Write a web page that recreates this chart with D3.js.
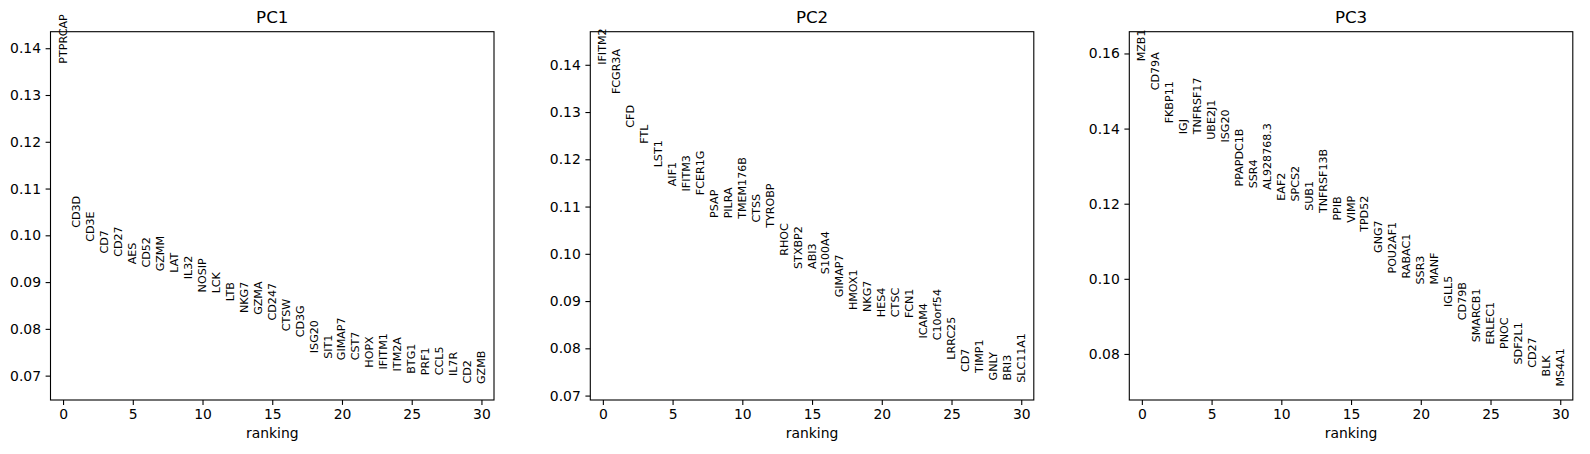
<!DOCTYPE html>
<html>
<head>
<meta charset="utf-8">
<script src="https://cdn.jsdelivr.net/npm/d3@7/dist/d3.min.js"></script>
<style>
  body { margin: 0; background: #fff; }
  svg text { font-family: 'DejaVu Sans', sans-serif; fill: #000; }
</style>
</head>
<body>
<svg id="chart" width="1590" height="454"></svg>
<script>

const titles = ['PC1', 'PC2', 'PC3'];

const pc1Genes = ['PTPRCAP', 'CD3D', 'CD3E', 'CD7', 'CD27', 'AES', 'CD52', 'GZMM', 'LAT', 'IL32',
  'NOSIP', 'LCK', 'LTB', 'NKG7', 'GZMA', 'CD247', 'CTSW', 'CD3G', 'ISG20', 'SIT1',
  'GIMAP7', 'CST7', 'HOPX', 'IFITM1', 'ITM2A', 'BTG1', 'PRF1', 'CCL5', 'IL7R', 'CD2', 'GZMB'];
const pc1Scores = [0.1367, 0.1016, 0.0986, 0.0961, 0.0954, 0.0938, 0.0931, 0.0923, 0.0920, 0.0906,
  0.0878, 0.0876, 0.0859, 0.0834, 0.0830, 0.0818, 0.0795, 0.0782, 0.0748, 0.0736,
  0.0733, 0.0733, 0.0717, 0.0713, 0.0709, 0.0704, 0.0701, 0.0701, 0.0699, 0.0683, 0.0682];

const pc2Genes = ['IFITM2', 'FCGR3A', 'CFD', 'FTL', 'LST1', 'AIF1', 'IFITM3', 'FCER1G', 'PSAP', 'PILRA',
  'TMEM176B', 'CTSS', 'TYROBP', 'RHOC', 'STXBP2', 'ABI3', 'S100A4', 'GIMAP7', 'HMOX1', 'NKG7',
  'HES4', 'CTSC', 'FCN1', 'ICAM4', 'C10orf54', 'LRRC25', 'CD7', 'TIMP1', 'GNLY', 'BRI3', 'SLC11A1'];
const pc2Scores = [0.1400, 0.1338, 0.1267, 0.1233, 0.1183, 0.1143, 0.1132, 0.1124, 0.1076, 0.1075,
  0.1074, 0.1066, 0.1055, 0.0996, 0.0968, 0.0968, 0.0957, 0.0908, 0.0881, 0.0877,
  0.0866, 0.0866, 0.0864, 0.0821, 0.0817, 0.0776, 0.0750, 0.0748, 0.0732, 0.0732, 0.0727];

const pc3Genes = ['MZB1', 'CD79A', 'FKBP11', 'IGJ', 'TNFRSF17', 'UBE2J1', 'ISG20', 'PPAPDC1B', 'SSR4', 'AL928768.3',
  'EAF2', 'SPCS2', 'SUB1', 'TNFRSF13B', 'PPIB', 'VIMP', 'TPD52', 'GNG7', 'POU2AF1', 'RABAC1',
  'SSR3', 'MANF', 'IGLL5', 'CD79B', 'SMARCB1', 'ERLEC1', 'PNOC', 'SDF2L1', 'CD27', 'BLK', 'MS4A1'];
const pc3Scores = [0.1579, 0.1502, 0.1414, 0.1385, 0.1385, 0.1370, 0.1363, 0.1246, 0.1241, 0.1237,
  0.1208, 0.1206, 0.1181, 0.1175, 0.1155, 0.1149, 0.1125, 0.1069, 0.1014, 0.1001,
  0.0985, 0.0985, 0.0925, 0.0890, 0.0831, 0.0825, 0.0813, 0.0772, 0.0763, 0.0740, 0.0713];

const xTicks = [0, 5, 10, 15, 20, 25, 30];
const pc1YTicks = [0.07, 0.08, 0.09, 0.10, 0.11, 0.12, 0.13, 0.14];
const pc2YTicks = [0.07, 0.08, 0.09, 0.10, 0.11, 0.12, 0.13, 0.14];
const pc3YTicks = [0.08, 0.10, 0.12, 0.14, 0.16];


const panels = [
  { title: titles[0], genes: pc1Genes, scores: pc1Scores, yTicks: pc1YTicks },
  { title: titles[1], genes: pc2Genes, scores: pc2Scores, yTicks: pc2YTicks },
  { title: titles[2], genes: pc3Genes, scores: pc3Scores, yTicks: pc3YTicks }
];

const axLefts = [50.5, 590.3, 1129.3];
const axTop = 31.7;
const axWidth = 443.5;
const axHeight = 368.3;

const svg = d3.select('#chart');


const drawPanel = (panel, left) => {
  const g = svg.append('g')
      .attr('transform', `translate(${left},${axTop})`);

  // same limits scanpy uses for its ranking plots
  const x = d3.scaleLinear()
      .domain([-0.9, panel.scores.length - 0.1])
      .range([0, axWidth]);

  const y = d3.scaleLinear()
      .domain([0.95 * d3.min(panel.scores), 1.05 * d3.max(panel.scores)])
      .range([axHeight, 0]);

  const xAxis = g.append('g')
      .attr('transform', `translate(0,${axHeight})`)
      .call(d3.axisBottom(x).tickValues(xTicks).tickSize(4.9).tickPadding(4.6).tickSizeOuter(0));

  const yAxis = g.append('g')
      .call(d3.axisLeft(y).tickValues(panel.yTicks).tickFormat(d3.format('.2f'))
        .tickSize(4.9).tickPadding(4.6).tickSizeOuter(0));

  [xAxis, yAxis].forEach((a) => {
    a.select('.domain').remove();
    a.selectAll('line').attr('stroke', '#000').attr('stroke-width', 1.1);
    a.selectAll('text')
        .style('font-family', "'DejaVu Sans', sans-serif")
        .style('font-size', '13.9px')
        .attr('fill', '#000');
  });

  g.selectAll('text.gene')
      .data(panel.genes)
      .enter()
      .append('text')
        .attr('class', 'gene')
        .attr('transform', (d, i) => `translate(${x(i)},${y(panel.scores[i])}) rotate(-90)`)
        .attr('text-anchor', 'start')
        .attr('dominant-baseline', 'central')
        .style('font-size', '11.1px')
        .text((d) => d);

  g.append('rect')
      .attr('width', axWidth)
      .attr('height', axHeight)
      .attr('fill', 'none')
      .attr('stroke', '#000')
      .attr('stroke-width', 1.1);

  g.append('text')
      .attr('x', axWidth / 2)
      .attr('y', -8.6)
      .attr('text-anchor', 'middle')
      .style('font-size', '16.7px')
      .text(panel.title);

  g.append('text')
      .attr('x', axWidth / 2)
      .attr('y', axHeight + 38.5)
      .attr('text-anchor', 'middle')
      .style('font-size', '13.9px')
      .text('ranking');
}


panels.forEach((p, i) => drawPanel(p, axLefts[i]));

</script>
</body>
</html>
